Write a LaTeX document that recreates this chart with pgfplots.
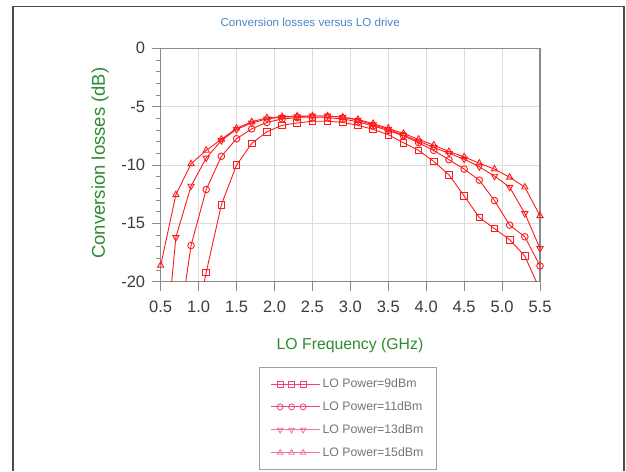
\documentclass[border=0pt]{standalone}
\usepackage{pgfplots}
\pgfplotsset{compat=1.18}
\usepackage{fontspec}
\setmainfont{Liberation Sans}
\definecolor{titleblue}{HTML}{4A86C5}
\definecolor{labgreen}{HTML}{2E8B2E}
\definecolor{ticktext}{HTML}{3C3C3C}
\definecolor{axgray}{HTML}{8A8A8A}
\definecolor{gridgray}{HTML}{DCDCDC}
\definecolor{curvered}{HTML}{FF1A1A}
\definecolor{legpinkA}{HTML}{F0427C}
\definecolor{legpinkB}{HTML}{F5739E}
\definecolor{legtext}{HTML}{77727F}
\definecolor{framegray}{HTML}{4A4A4A}
\begin{document}
\begin{tikzpicture}[x=1pt,y=1pt]
\useasboundingbox (0,0) rectangle (626,471);
\draw[framegray, line width=1.6pt] (13,0) -- (13,464.5) -- (624,464.5) -- (624,0);
\begin{axis}[
  at={(160.7pt,189.3pt)}, anchor=south west,
  scale only axis, width=379.3pt, height=233.4pt,
  xmin=0.5, xmax=5.5, ymin=-20, ymax=0,
  xtick={0.5,1.0,1.5,2.0,2.5,3.0,3.5,4.0,4.5,5.0,5.5},
  ytick={-20,-15,-10,-5,0},
  minor y tick num=4,
  xtick pos=bottom, ytick pos=left,
  tick align=outside,
  major tick length=9pt, minor tick length=5pt,
  grid=major,
  major grid style={gridgray, line width=0.8pt},
  axis line style={axgray, line width=1.2pt},
  tick style={axgray, line width=0.8pt},
  /pgf/number format/assume math mode=true,
  ticklabel style={font=\fontsize{16.5}{18}\selectfont, text=ticktext},
  xticklabel style={yshift=-7pt, /pgf/number format/.cd, fixed, fixed zerofill, precision=1},
  yticklabel style={xshift=-3pt, /pgf/number format/.cd, fixed, precision=0},
  title={Conversion losses versus LO drive},
  title style={at={(axis description cs:0.394,1.087)}, anchor=center, font=\fontsize{11.6}{13}\selectfont, text=titleblue},
  xlabel={LO Frequency (GHz)},
  xlabel style={at={(axis description cs:0.499,-0.272)}, anchor=center, font=\fontsize{15.8}{18}\selectfont, text=labgreen},
  ylabel={Conversion losses (dB)},
  ylabel style={at={(axis description cs:-0.16,0.508)}, anchor=center, font=\fontsize{18.5}{20}\selectfont, text=labgreen},
  legend style={at={(0.26,-0.367)}, anchor=north west, draw=gray!75, line width=0.8pt,
    font=\fontsize{12.3}{14}\selectfont, text=legtext, row sep=8.5pt, inner xsep=11pt, inner ysep=9pt},
  legend cell align=left,
  legend image code/.code={
    \draw[#1] plot[mark indices={2,3,4}] coordinates {(0pt,0pt) (9pt,0pt) (20.5pt,0pt) (32pt,0pt) (41pt,0pt)};
    \path (0pt,0pt) -- (49pt,0pt);
  },
]
\addlegendimage{legpinkA, line width=0.8pt, mark=square, mark size=3pt, mark options={solid}}
\addlegendentry{LO Power=9dBm}
\addlegendimage{legpinkA, line width=0.8pt, mark=o, mark size=3pt, mark options={solid}}
\addlegendentry{LO Power=11dBm}
\addlegendimage{legpinkB, line width=0.8pt, mark=triangle, mark size=3.2pt, mark options={solid, rotate=180}}
\addlegendentry{LO Power=13dBm}
\addlegendimage{legpinkB, line width=0.8pt, mark=triangle, mark size=3.2pt, mark options={solid}}
\addlegendentry{LO Power=15dBm}

% 9 dBm (squares)
\addplot[curvered, line width=0.9pt, mark=square, mark size=3.3pt, mark options={solid, fill=none}, forget plot] table {
x y
0.9 -25.5
1.1 -19.2
1.3 -13.4
1.5 -10.0
1.7 -8.15
1.9 -7.15
2.1 -6.6
2.3 -6.4
2.5 -6.25
2.7 -6.25
2.9 -6.35
3.1 -6.6
3.3 -6.95
3.5 -7.4
3.7 -8.1
3.9 -8.75
4.1 -9.7
4.3 -10.85
4.5 -12.65
4.7 -14.5
4.9 -15.45
5.1 -16.4
5.3 -17.8
5.5 -20.7
};
% 11 dBm (circles)
\addplot[curvered, line width=0.9pt, mark=o, mark size=3.3pt, mark options={solid, fill=none}, forget plot] table {
x y
0.7 -25.8
0.9 -16.9
1.1 -12.1
1.3 -9.25
1.5 -7.75
1.7 -6.9
1.9 -6.35
2.1 -6.05
2.3 -5.95
2.5 -5.95
2.7 -5.95
2.9 -6.05
3.1 -6.3
3.3 -6.65
3.5 -7.05
3.7 -7.5
3.9 -8.1
4.1 -8.75
4.3 -9.55
4.5 -10.35
4.7 -11.3
4.9 -13.05
5.1 -15.15
5.3 -16.15
5.5 -18.65
};
% 13 dBm (inverted triangles)
\addplot[curvered, line width=0.9pt, mark=triangle, mark size=3.6pt, mark options={solid, fill=none, rotate=180}, forget plot] table {
x y
0.5 -30
0.7 -16.2
0.9 -11.8
1.1 -9.4
1.3 -7.9
1.5 -6.95
1.7 -6.4
1.9 -6.05
2.1 -5.9
2.3 -5.85
2.5 -5.8
2.7 -5.8
2.9 -5.9
3.1 -6.15
3.3 -6.55
3.5 -6.95
3.7 -7.45
3.9 -7.95
4.1 -8.5
4.3 -9.0
4.5 -9.5
4.7 -10.15
4.9 -10.95
5.1 -11.9
5.3 -14.15
5.5 -17.15
};
% 15 dBm (triangles)
\addplot[curvered, line width=0.9pt, mark=triangle, mark size=3.6pt, mark options={solid, fill=none}, forget plot] table {
x y
0.5 -18.6
0.7 -12.55
0.9 -9.9
1.1 -8.75
1.3 -7.8
1.5 -6.85
1.7 -6.3
1.9 -5.95
2.1 -5.85
2.3 -5.8
2.5 -5.8
2.7 -5.8
2.9 -5.9
3.1 -6.1
3.3 -6.45
3.5 -6.85
3.7 -7.3
3.9 -7.8
4.1 -8.3
4.3 -8.85
4.5 -9.3
4.7 -9.85
4.9 -10.35
5.1 -11.05
5.3 -11.9
5.5 -14.35
};
\end{axis}
\end{tikzpicture}
\end{document}
